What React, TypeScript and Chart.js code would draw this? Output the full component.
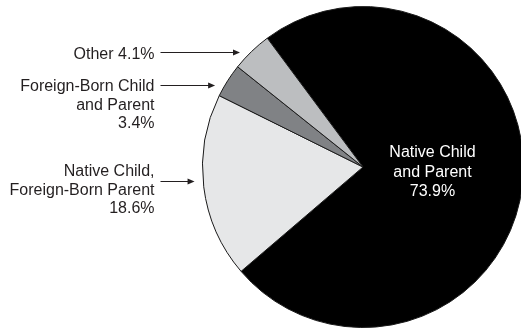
import React, { useEffect, useRef } from "react";
import { Chart, registerables } from "chart.js";

Chart.register(...registerables);

const categories = [
  "Native Child and Parent",
  "Native Child, Foreign-Born Parent",
  "Foreign-Born Child and Parent",
  "Other",
];
const shares = [73.9, 18.6, 3.4, 4.1];
const sliceColors = ["#000000", "#e6e7e8", "#808285", "#bcbec0"];
const labelNameLines = [
  ["Native Child", "and Parent"],
  ["Native Child,", "Foreign-Born Parent"],
  ["Foreign-Born Child", "and Parent"],
  ["Other"],
];

const FONT = '16px "Liberation Sans", Arial, Helvetica, sans-serif';
const LINE_H = 18.8;

function pct(i: number) {
  return `${shares[i].toFixed(1)}%`;
}

const labelPlugin = {
  id: "pieLabels",
  afterDraw(chart: any) {
    const ctx = chart.ctx as CanvasRenderingContext2D;
    const arc = chart.getDatasetMeta(0).data[0];
    const { x: cx, y: cy, outerRadius: r } = arc.getProps(["x", "y", "outerRadius"], true);
    ctx.save();
    ctx.font = FONT;
    ctx.textBaseline = "alphabetic";

    // inside label
    ctx.fillStyle = "#ffffff";
    ctx.textAlign = "center";
    const inside = [...labelNameLines[0], pct(0)];
    inside.forEach((t, k) => ctx.fillText(t, cx + 69.5, cy - 9.7 + k * 19.2));

    // outside labels: [index, first baseline offset, arrow y offset, gap]
    const outside: [number, number, number, number][] = [
      [3, -107.7, -115.3, 10.5],
      [2, -76.3, -82, 9.6],
      [1, 8.7, 14, 8.6],
    ];
    const textRight = cx - 208.5;
    const arrowStart = cx - 202.5;
    ctx.fillStyle = "#231f20";
    ctx.strokeStyle = "#231f20";
    ctx.lineWidth = 1;
    outside.forEach(([i, by, ay, gap]) => {
      ctx.textAlign = "right";
      const lines =
        labelNameLines[i].length === 1
          ? [`${labelNameLines[i][0]} ${pct(i)}`]
          : [...labelNameLines[i], pct(i)];
      lines.forEach((t, k) => ctx.fillText(t, textRight, cy + by + k * LINE_H));
      const y = Math.round(cy + ay) + 0.5;
      const dy = y - cy;
      const tip = cx - Math.sqrt(r * r - dy * dy) - gap;
      ctx.beginPath();
      ctx.moveTo(arrowStart, y);
      ctx.lineTo(tip - 5, y);
      ctx.stroke();
      ctx.beginPath();
      ctx.moveTo(tip, y);
      ctx.lineTo(tip - 7, y - 3);
      ctx.lineTo(tip - 7, y + 3);
      ctx.closePath();
      ctx.fill();
    });
    ctx.restore();
  },
};

export default function App() {
  const canvasRef = useRef<HTMLCanvasElement | null>(null);

  useEffect(() => {
    const canvas = canvasRef.current;
    if (!canvas) return;
    const chart = new Chart(canvas, {
      type: "pie",
      data: {
        labels: categories,
        datasets: [
          {
            data: shares,
            backgroundColor: sliceColors,
            borderColor: "#1a1a1a",
            borderWidth: 1,
          },
        ],
      },
      options: {
        responsive: false,
        animation: false,
        devicePixelRatio: 1,
        rotation: -36.6,
        radius: 160.5,
        layout: { padding: { left: 196, right: 0, top: 5, bottom: 0 } },
        plugins: {
          legend: { display: false },
          tooltip: { enabled: false },
        },
      } as any,
      plugins: [labelPlugin],
    });
    return () => chart.destroy();
  }, []);

  return (
    <div
      style={{
        position: "fixed",
        left: 0,
        top: 0,
        width: 521,
        height: 329,
        overflow: "hidden",
        background: "#ffffff",
      }}
    >
      <canvas ref={canvasRef} width={530} height={329} style={{ display: "block" }} />
    </div>
  );
}
